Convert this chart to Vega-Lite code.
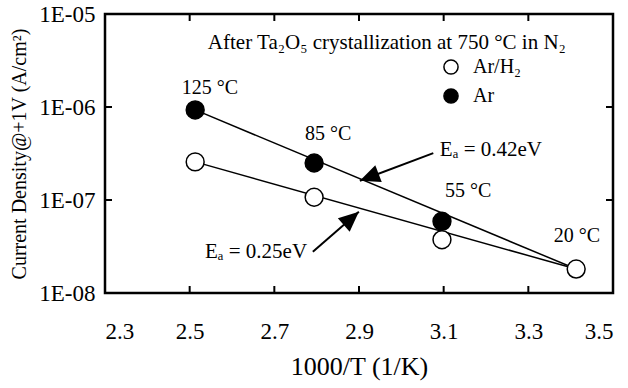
{
  "$schema": "https://vega.github.io/schema/vega-lite/v6.json",
  "width": 508,
  "height": 279,
  "autosize": {"type": "none"},
  "padding": {"left": 105, "top": 14, "right": 15, "bottom": 95},
  "background": "white",
  "config": {
    "view": {"stroke": "black", "strokeWidth": 2.5},
    "font": "Liberation Serif",
    "axis": {
      "labelFont": "Liberation Serif",
      "titleFont": "Liberation Serif",
      "labelColor": "black",
      "titleColor": "black",
      "domain": false,
      "ticks": false,
      "grid": false,
      "titleFontWeight": "normal"
    },
    "text": {"font": "Liberation Serif", "fontSize": 20, "color": "black"}
  },
  "datasets": {
    "points": [
      {"series": "Ar", "x": 2.513, "y": 9.3e-7},
      {"series": "Ar", "x": 2.794, "y": 2.5e-7},
      {"series": "Ar", "x": 3.096, "y": 5.9e-8},
      {"series": "Ar/H₂", "x": 2.513, "y": 2.57e-7},
      {"series": "Ar/H₂", "x": 2.794, "y": 1.07e-7},
      {"series": "Ar/H₂", "x": 3.096, "y": 3.74e-8},
      {"series": "Ar/H₂", "x": 3.413, "y": 1.81e-8}
    ],
    "fits": [
      {"series": "Ar", "x": 2.513, "y": 9.3e-7},
      {"series": "Ar", "x": 3.413, "y": 1.81e-8},
      {"series": "Ar/H₂", "x": 2.513, "y": 2.57e-7},
      {"series": "Ar/H₂", "x": 3.413, "y": 1.81e-8}
    ],
    "labels": [
      {"anchor": "center", "x": 2.548, "y": 1.6e-6, "text": "125 °C"},
      {"anchor": "center", "x": 2.827, "y": 5.1e-7, "text": "85 °C"},
      {"anchor": "center", "x": 3.158, "y": 1.25e-7, "text": "55 °C"},
      {"anchor": "center", "x": 3.415, "y": 4.1e-8, "text": "20 °C"},
      {"anchor": "left", "x": 2.543, "y": 4.88e-6, "text": "After Ta₂O₅ crystallization at 750 °C in N₂"},
      {"anchor": "left", "x": 3.091, "y": 3.46e-7, "text": "Eₐ = 0.42eV"},
      {"anchor": "left", "x": 2.536, "y": 2.78e-8, "text": "Eₐ = 0.25eV"}
    ],
    "arrows": [
      {"x": 3.0755, "y": 3.19e-7, "x2": 2.902, "y2": 1.61e-7, "angle": 249},
      {"x": 2.791, "y": 2.78e-8, "x2": 2.8997, "y2": 7.46e-8, "angle": 49}
    ],
    "xticks": [{"v": 2.5}, {"v": 2.7}, {"v": 2.9}, {"v": 3.1}, {"v": 3.3}],
    "yticks": [{"v": 1e-7}, {"v": 1e-6}]
  },
  "layer": [
    {
      "data": {"name": "fits"},
      "mark": {"type": "line", "color": "black", "strokeWidth": 1.5},
      "encoding": {
        "x": {"field": "x", "type": "quantitative", "scale": {"domain": [2.3, 3.5], "nice": false, "zero": false},
              "axis": {"orient": "bottom", "values": [2.3, 2.5, 2.7, 2.9, 3.1, 3.3, 3.5], "format": ".1f",
                       "labelFontSize": 23, "labelPadding": 27, "title": "1000/T (1/K)", "titleFontSize": 26, "titlePadding": 10}},
        "y": {"field": "y", "type": "quantitative", "scale": {"type": "log", "domain": [1e-8, 1e-5], "nice": false},
              "axis": {"orient": "left", "values": [1e-8, 1e-7, 1e-6, 1e-5], "labelExpr": "'1E-0' + round(-log(datum.value)/LN10)",
                       "labelFontSize": 23, "labelPadding": 10,
                       "title": "Current Density@+1V (A/cm²)", "titleFontSize": 20, "titlePadding": 9}},
        "detail": {"field": "series"}
      }
    },
    {
      "data": {"name": "xticks"},
      "mark": {"type": "tick", "orient": "vertical", "size": 7, "thickness": 2, "color": "black", "opacity": 1, "yOffset": -3.5},
      "encoding": {
        "x": {"field": "v", "type": "quantitative"},
        "y": {"datum": 1e-8, "type": "quantitative"}
      }
    },
    {
      "data": {"name": "xticks"},
      "mark": {"type": "tick", "orient": "vertical", "size": 7, "thickness": 2, "color": "black", "opacity": 1, "yOffset": 3.5},
      "encoding": {
        "x": {"field": "v", "type": "quantitative"},
        "y": {"datum": 1e-5, "type": "quantitative"}
      }
    },
    {
      "data": {"name": "yticks"},
      "mark": {"type": "tick", "orient": "horizontal", "size": 7, "thickness": 2, "color": "black", "opacity": 1, "xOffset": 3.5},
      "encoding": {
        "x": {"datum": 2.3, "type": "quantitative"},
        "y": {"field": "v", "type": "quantitative"}
      }
    },
    {
      "data": {"name": "yticks"},
      "mark": {"type": "tick", "orient": "horizontal", "size": 7, "thickness": 2, "color": "black", "opacity": 1, "xOffset": -3.5},
      "encoding": {
        "x": {"datum": 3.5, "type": "quantitative"},
        "y": {"field": "v", "type": "quantitative"}
      }
    },
    {
      "data": {"name": "arrows"},
      "mark": {"type": "rule", "color": "black", "strokeWidth": 2},
      "encoding": {
        "x": {"field": "x", "type": "quantitative"},
        "y": {"field": "y", "type": "quantitative"},
        "x2": {"field": "x2"},
        "y2": {"field": "y2"}
      }
    },
    {
      "data": {"name": "arrows"},
      "mark": {"type": "point", "shape": "M0,0L0.45,1L-0.45,1Z", "filled": true, "color": "black", "size": 1600, "opacity": 1},
      "encoding": {
        "x": {"field": "x2", "type": "quantitative"},
        "y": {"field": "y2", "type": "quantitative"},
        "angle": {"field": "angle", "type": "quantitative", "scale": null}
      }
    },
    {
      "data": {"name": "points"},
      "mark": {"type": "point", "shape": "circle", "filled": true, "size": 320, "stroke": "black", "strokeWidth": 1.5, "opacity": 1},
      "encoding": {
        "x": {"field": "x", "type": "quantitative"},
        "y": {"field": "y", "type": "quantitative"},
        "fill": {"field": "series", "type": "nominal",
                 "scale": {"domain": ["Ar/H₂", "Ar"], "range": ["white", "black"]},
                 "legend": {"orient": "none", "legendX": 336, "legendY": 43, "title": null, "padding": 0,
                            "symbolType": "circle", "symbolSize": 200, "symbolStrokeColor": "black", "symbolStrokeWidth": 1.5,
                            "symbolOpacity": 1, "labelFont": "Liberation Serif", "labelFontSize": 20, "labelColor": "black",
                            "labelOffset": 12, "rowPadding": 7}}
      }
    },
    {
      "data": {"name": "labels"},
      "transform": [{"filter": "datum.anchor === 'center'"}],
      "mark": {"type": "text", "align": "center", "baseline": "middle"},
      "encoding": {
        "x": {"field": "x", "type": "quantitative"},
        "y": {"field": "y", "type": "quantitative"},
        "text": {"field": "text"}
      }
    },
    {
      "data": {"name": "labels"},
      "transform": [{"filter": "datum.anchor === 'left'"}],
      "mark": {"type": "text", "align": "left", "baseline": "middle", "fontSize": 21},
      "encoding": {
        "x": {"field": "x", "type": "quantitative"},
        "y": {"field": "y", "type": "quantitative"},
        "text": {"field": "text"}
      }
    }
  ]
}
